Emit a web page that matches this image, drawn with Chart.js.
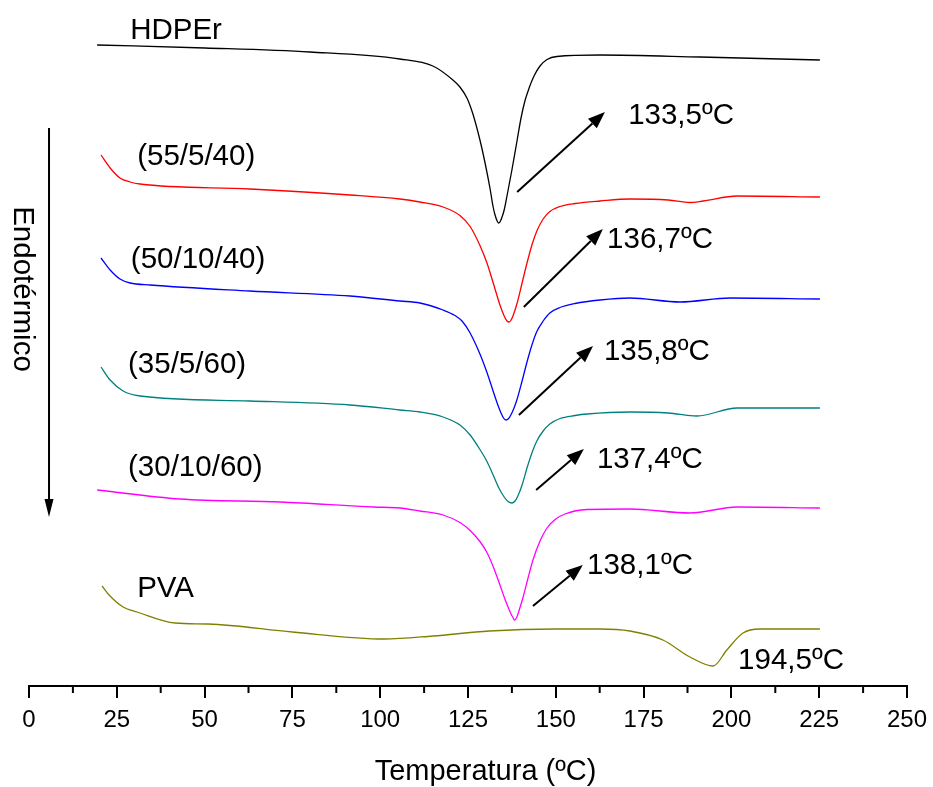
<!DOCTYPE html>
<html>
<head>
<meta charset="utf-8">
<script src="https://cdn.jsdelivr.net/npm/chart.js@4/dist/chart.umd.min.js"></script>
<style>
  html, body { margin: 0; padding: 0; background: #fff; }
  #wrap { width: 933px; height: 787px; position: relative; }
</style>
</head>
<body>
<div id="wrap"><canvas id="c"></canvas></div>
<script>
// ---- DATA (temperature in ºC, heat flow in arbitrary offset units) ----
const seriesNames = ['HDPEr', '(55/5/40)', '(50/10/40)', '(35/5/60)', '(30/10/60)', 'PVA'];
const seriesColors = ['#000000', '#ff0000', '#0000ff', '#008080', '#ff00ff', '#808000'];
const xTitle = 'Temperatura (ºC)';
const yTitle = 'Endotérmico';

const hdpeT = [19.4, 50.1, 80.0, 105.6, 115.0, 120.7, 122.7, 124.7, 126.4, 128.4, 129.8, 131.3, 132.1, 132.7, 133.3, 133.7, 134.1, 134.7, 135.3, 136.1, 137.5, 139.0, 140.1, 141.2, 142.4, 143.8, 145.5, 147.5, 150.3, 162.6, 191.1, 225.2];
const hdpeV = [64.1, 63.8, 63.4, 62.7, 62.0, 60.6, 59.9, 58.8, 57.2, 54.6, 52.4, 49.7, 48.0, 47.1, 46.5, 46.3, 46.4, 46.9, 47.6, 49.0, 51.6, 54.6, 56.8, 58.5, 59.8, 61.0, 62.0, 62.65, 62.95, 63.1, 62.9, 62.6];

const b55T = [20.5, 23.1, 25.9, 28.8, 31.6, 62.9, 91.4, 105.6, 111.3, 117.9, 122.7, 125.6, 128.4, 130.4, 132.1, 134.1, 135.3, 136.1, 136.7, 137.2, 137.8, 139.0, 140.4, 141.8, 143.2, 144.6, 146.4, 148.3, 151.2, 155.5, 162.6, 171.1, 182, 188.2, 192, 201.6, 225.2];
const b55V = [53.1, 51.8, 50.8, 50.4, 50.2, 49.7, 49.1, 48.7, 48.4, 47.9, 47.05, 45.95, 44.05, 42.3, 40.4, 38.1, 37.0, 36.5, 36.4, 36.55, 37.0, 38.3, 40.3, 42.3, 44.1, 45.5, 46.7, 47.45, 47.95, 48.25, 48.5, 48.7, 48.6, 48.35, 48.5, 49.0, 48.9];

const b50T = [20.5, 23.1, 25.9, 28.8, 34.5, 62.9, 91.4, 105.6, 111.3, 117.9, 121.3, 123.3, 125.6, 128.4, 130.4, 132.1, 133.5, 134.4, 135.1, 135.8, 136.5, 137.2, 138.1, 139.0, 140.4, 141.8, 143.2, 144.6, 146.4, 148.3, 151.2, 155.5, 162.6, 171.1, 185.4, 199.6, 225.2];
const b50V = [42.8, 41.6, 40.7, 40.3, 40.1, 39.5, 39.0, 38.5, 38.3, 37.6, 37.05, 36.5, 35.3, 33.2, 31.35, 29.55, 28.1, 27.3, 26.8, 26.6, 26.72, 27.1, 27.8, 28.7, 30.5, 32.4, 34.1, 35.45, 36.5, 37.3, 37.85, 38.25, 38.6, 38.8, 38.4, 38.8, 38.7];

const b35T = [20.5, 23.1, 26.8, 31.6, 62.9, 91.4, 105.6, 111.3, 117.9, 122.7, 125.6, 128.4, 130.4, 132.1, 133.8, 135.3, 136.4, 137.5, 138.4, 139.2, 140.4, 141.8, 143.2, 144.6, 146.4, 148.3, 151.2, 155.5, 158.9, 171.1, 182, 190.2, 201.6, 225.2];
const b35V = [31.9, 30.6, 29.5, 29.0, 28.5, 28.1, 27.6, 27.4, 26.9, 26.1, 25.1, 23.65, 22.45, 21.15, 19.8, 18.9, 18.45, 18.3, 18.5, 19.0, 20.1, 21.8, 23.3, 24.5, 25.5, 26.2, 26.75, 27.05, 27.2, 27.4, 27.3, 27.0, 27.8, 27.8];

const b30T = [19.4, 43.0, 71.5, 98.2, 105.6, 111.3, 117.9, 122.7, 125.6, 128.4, 130.4, 132.1, 134.1, 135.5, 136.4, 137.2, 137.8, 138.2, 138.8, 139.5, 140.7, 142.1, 143.5, 145.5, 147.5, 149.8, 152.6, 158.9, 171.1, 188.2, 201.6, 225.2];
const b30V = [19.6, 18.7, 18.4, 17.9, 17.8, 17.5, 17.1, 16.35, 15.55, 14.45, 13.35, 12.0, 10.1, 8.7, 7.9, 7.25, 6.85, 6.6, 6.8, 7.5, 8.9, 10.8, 12.6, 14.5, 15.8, 16.65, 17.2, 17.65, 17.7, 17.3, 17.9, 17.8];

const pvaT = [20.8, 22.8, 26.8, 30.8, 41.6, 51.0, 75.0, 101.1, 115.0, 131.0, 150.0, 162.6, 171.1, 180.5, 188.2, 194.8, 198.7, 203.3, 208.1, 225.2];
const pvaV = [10.0, 9.1, 7.9, 7.4, 6.3, 6.2, 5.4, 4.7, 5.0, 5.5, 5.7, 5.7, 5.5, 4.6, 2.9, 2.0, 3.6, 5.3, 5.7, 5.7];

const xTicks = [0, 25, 50, 75, 100, 125, 150, 175, 200, 225, 250];
const peakLabels = ['133,5ºC', '136,7ºC', '135,8ºC', '137,4ºC', '138,1ºC', '194,5ºC'];

// ---- annotation placement (data units) ----
const nameAnchors = [[28.8, 65.5], [30.8, 52.9], [29.0, 42.6], [28.2, 32.1], [28.2, 21.8], [30.8, 9.7]];
const peakTextAnchors = [[170.6, 57.0], [164.6, 44.6], [163.7, 33.4], [161.7, 22.6], [158.9, 12.0], [201.9, 2.5]];
const peakArrows = [
  [[139.0, 49.4], [164.0, 57.4]],
  [[140.9, 37.9], [163.4, 45.7]],
  [[139.5, 27.1], [160.6, 34.0]],
  [[144.4, 19.6], [158.0, 23.7]],
  [[143.5, 8.0], [157.7, 12.1]],
  null
];
const endoArrow = [[5.7, 55.8], [5.7, 16.9]];
const endoText = [-2.0, 39.7];
const xTitleAnchor = 130;   // ºC, horizontal centre of the axis title

const seriesT = [hdpeT, b55T, b50T, b35T, b30T, pvaT];
const seriesV = [hdpeV, b55V, b50V, b35V, b30V, pvaV];

const datasets = seriesNames.map((n, i) => ({
  label: n,
  data: seriesT[i].map((t, k) => ({ x: t, y: seriesV[i][k] })),
  borderColor: seriesColors[i],
  borderWidth: 1.3,
  pointRadius: 0,
  fill: false,
  cubicInterpolationMode: 'monotone'
}));

const FONT = "'Liberation Sans', Arial, sans-serif";

function arrow(ctx, x1, y1, x2, y2, headLen, headHalf) {
  const ang = Math.atan2(y2 - y1, x2 - x1);
  const bx = x2 - headLen * Math.cos(ang), by = y2 - headLen * Math.sin(ang);
  ctx.beginPath();
  ctx.moveTo(x1, y1);
  ctx.lineTo(bx, by);
  ctx.stroke();
  ctx.beginPath();
  ctx.moveTo(x2, y2);
  ctx.lineTo(bx + headHalf * Math.sin(ang), by - headHalf * Math.cos(ang));
  ctx.lineTo(bx - headHalf * Math.sin(ang), by + headHalf * Math.cos(ang));
  ctx.closePath();
  ctx.fill();
}

const annot = {
  id: 'annot',
  afterDraw(chart) {
    const ctx = chart.ctx, xs = chart.scales.x, ys = chart.scales.y;
    const px = v => xs.getPixelForValue(v), py = v => ys.getPixelForValue(v);
    ctx.save();
    // minor ticks
    ctx.strokeStyle = '#000'; ctx.lineWidth = 2;
    const b = chart.chartArea.bottom;
    for (let k = 0; k < xTicks.length - 1; k++) {
      const m = (xTicks[k] + xTicks[k + 1]) / 2;
      ctx.beginPath(); ctx.moveTo(px(m), b); ctx.lineTo(px(m), b + 7); ctx.stroke();
    }
    // axis title
    ctx.fillStyle = '#000';
    ctx.font = '29px ' + FONT;
    ctx.textAlign = 'center'; ctx.textBaseline = 'middle';
    ctx.fillText(xTitle, px(xTitleAnchor), xs.bottom - 15);
    // series names and peak labels
    ctx.font = '29.5px ' + FONT;
    ctx.textBaseline = 'middle'; ctx.textAlign = 'left';
    seriesNames.forEach((n, i) => ctx.fillText(n, px(nameAnchors[i][0]), py(nameAnchors[i][1])));
    peakLabels.forEach((t, i) => ctx.fillText(t, px(peakTextAnchors[i][0]), py(peakTextAnchors[i][1])));
    // arrows
    ctx.lineWidth = 2; ctx.strokeStyle = '#000'; ctx.fillStyle = '#000';
    peakArrows.forEach(a => {
      if (!a) return;
      arrow(ctx, px(a[0][0]), py(a[0][1]), px(a[1][0]), py(a[1][1]), 17, 6.5);
    });
    arrow(ctx, px(endoArrow[0][0]), py(endoArrow[0][1]), px(endoArrow[1][0]), py(endoArrow[1][1]), 18, 4.5);
    // vertical label
    ctx.save();
    ctx.translate(px(endoText[0]), py(endoText[1]));
    ctx.rotate(Math.PI / 2);
    ctx.textAlign = 'center'; ctx.textBaseline = 'middle';
    ctx.fillText(yTitle, 0, 0);
    ctx.restore();
    ctx.restore();
  }
};

new Chart(document.getElementById('c'), {
  type: 'line',
  data: { datasets },
  options: {
    responsive: true,
    maintainAspectRatio: false,
    animation: false,
    layout: { padding: { left: 29, right: 26, top: 6, bottom: 0 } },
    plugins: { legend: { display: false }, tooltip: { enabled: false } },
    scales: {
      x: {
        type: 'linear', position: 'bottom', min: 0, max: 250,
        afterBuildTicks: s => { s.ticks = xTicks.map(v => ({ value: v })); },
        afterFit: s => { s.height = 101; s.paddingLeft = 0; s.paddingRight = 0; },
        ticks: {
          color: '#000', padding: 8, maxRotation: 0, autoSkip: false,
          font: { family: FONT, size: 24 }
        },
        grid: { drawOnChartArea: false, drawTicks: true, tickLength: 12, color: '#000', lineWidth: 2 },
        border: { display: true, color: '#000', width: 2 },
        title: { display: false }
      },
      y: { display: false, min: 0, max: 68 }
    }
  },
  plugins: [annot]
});
</script>
</body>
</html>
